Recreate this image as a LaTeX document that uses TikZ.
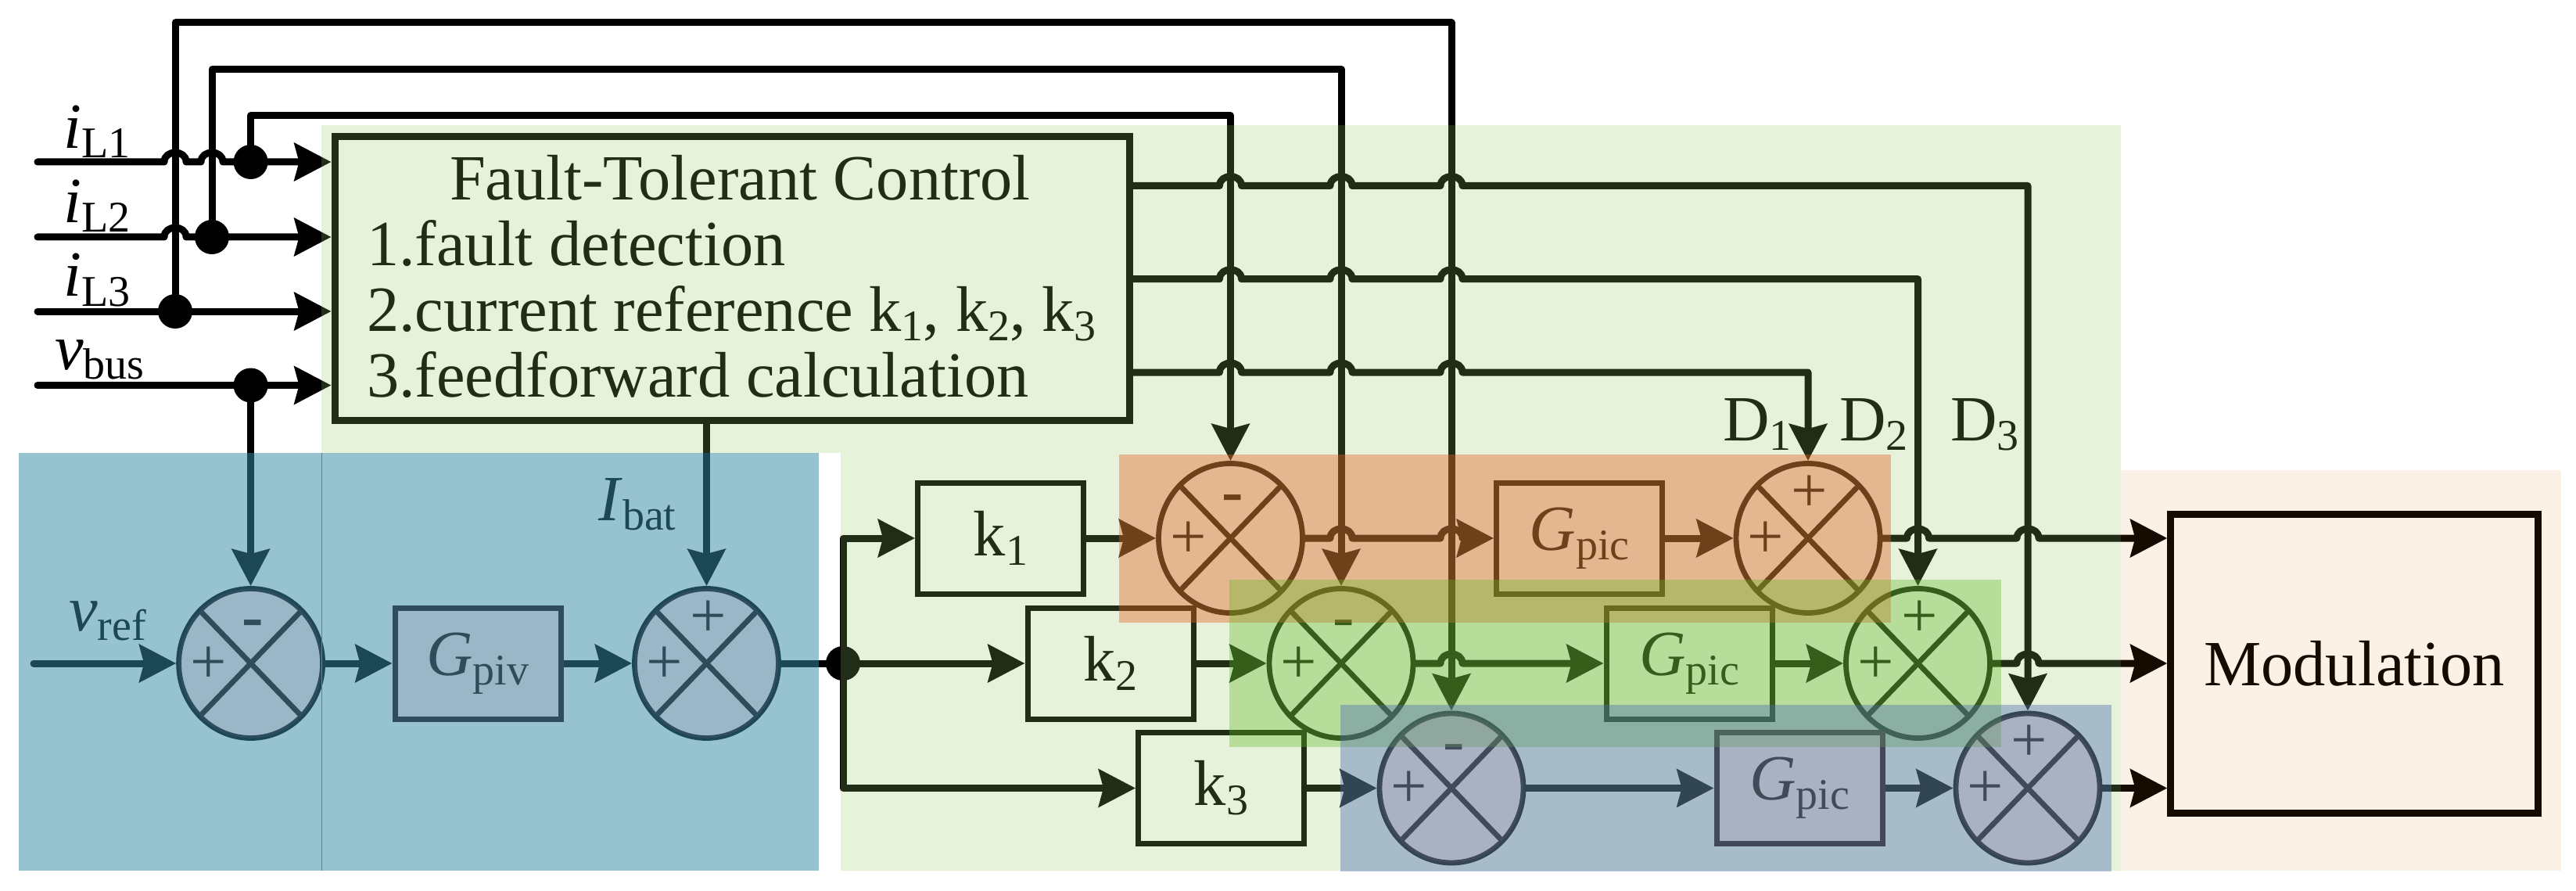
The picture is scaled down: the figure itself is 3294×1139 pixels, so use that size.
\documentclass[tikz,border=0pt]{standalone}
\usepackage{fontspec}
\setmainfont{Liberation Serif}
\usepackage{xcolor}
\usepackage{tikz}
\usetikzlibrary{
	arrows.meta, % for nice-looking arrows
	shapes.geometric % for the sum blocks
	}
\definecolor{ftcgreen}{RGB}{150,197,100}
\definecolor{pvteal}{RGB}{55,138,163}
\definecolor{rowone}{RGB}{226,95,34}
\definecolor{rowtwo}{RGB}{97,183,37}
\definecolor{rowthree}{RGB}{75,107,175}
\definecolor{modcream}{RGB}{215,115,15}
\definecolor{tintcol}{RGB}{175,115,140}
\newcommand{\bigfont}{\fontsize{41.2}{42}\selectfont}
\newcommand{\subtxt}[2]{#1\raisebox{-6pt}{\fontsize{28}{30}\selectfont #2}}
% horizontal line jumping over a vertical one
\newcommand{\hop}[2]{-- (#1-14,#2) .. controls (#1-14,#2-16) and (#1+14,#2-16) .. (#1+14,#2)}

\begin{document}
\begin{tikzpicture}[
                x=0.5pt,y=-0.5pt,
                every node/.style={font=\bigfont},
                sig/.style={line width=4.5pt,line cap=round,line join=round},
                arr/.style={sig,-{Stealth[length=23.5pt,width=24pt,inset=3pt]}},
                blk/.style={rectangle,draw,line width=3.5pt,minimum width=106pt,minimum height=71pt,inner sep=0pt},
                sumb/.style={ellipse,draw,line width=3.4pt,minimum width=92pt,minimum height=95.5pt,inner sep=0pt,
                    path picture={
                        \draw[line width=3.4pt] (path picture bounding box.south west) -- (path picture bounding box.north east);
                        \draw[line width=3.4pt] (path picture bounding box.north west) -- (path picture bounding box.south east);
                    }},
                sign/.style={inner sep=0pt},
                joint/.style={circle,fill=black,minimum size=22pt,inner sep=0pt},
                tag/.style={anchor=base west,inner sep=0pt},
                tintfill/.style={fill=tintcol,opacity=0.13},
            ]
                \useasboundingbox (0,0) rectangle (3294,1139);

                \def\xa{1573.5}
                \def\xb{1715}
                \def\xc{1856}
                \def\ya{688}
                \def\yb{848}
                \def\yc{1007.5}
                \def\oa{237.5}
                \def\ob{356.7}
                \def\oc{476}

                %% Control block and inputs
                \node[rectangle,draw,line width=4.5pt,minimum width=508pt,minimum height=181.5pt] (ftc) at (936,356) {};
                \node[anchor=west,align=left,inner sep=0pt] (ftctxt) at (468.6,353) {\hspace*{53pt}Fault-Tolerant Control\\1.fault detection\\2.current reference \subtxt{k}{1}, \subtxt{k}{2}, \subtxt{k}{3}\\3.feedforward calculation};

                \coordinate (in1) at (48,207);
                \coordinate (in2) at (48,303);
                \coordinate (in3) at (48,398);
                \coordinate (in4) at (48,492.5);
                \node[joint] (d1) at (320.6,207) {};
                \node[joint] (d2) at (271,303) {};
                \node[joint] (d3) at (224,398) {};
                \node[joint] (d4) at (320.6,492.5) {};

                \node[tag] (il1) at (81,190) {\subtxt{\textit{i}}{L1}};
                \node[tag] (il2) at (81,285) {\subtxt{\textit{i}}{L2}};
                \node[tag] (il3) at (81,379) {\subtxt{\textit{i}}{L3}};
                \node[tag] (vbus) at (70,472) {\subtxt{\textit{v}}{bus}};

                %% Battery loop
                \node[sumb] (sv) at (320.6,\yb) {};
                \node[blk] (piv) at (611,\yb) {\subtxt{\textit{G}}{piv}};
                \node[sumb] (si) at (903.5,\yb) {};
                \node[joint] (dj) at (1078,\yb) {};
                \coordinate (vin) at (43,\yb);
                \node[tag] (vref) at (88,806) {\subtxt{\textit{v}}{ref}};
                \node[tag] (ibat) at (765,665) {\subtxt{\textit{I}}{bat}};

                %% Three current loops
                \node[blk] (k1) at (1279.5,\ya) {\subtxt{k}{1}};
                \node[blk] (k2) at (1420,\yb) {\subtxt{k}{2}};
                \node[blk] (k3) at (1561.5,\yc) {\subtxt{k}{3}};
                \node[sumb] (s1a) at (\xa,\ya) {};
                \node[sumb] (s2a) at (\xb,\yb) {};
                \node[sumb] (s3a) at (\xc,\yc) {};
                \node[blk] (gpic1) at (2019.5,\ya) {\subtxt{\textit{G}}{pic}};
                \node[blk] (gpic2) at (2160,\yb) {\subtxt{\textit{G}}{pic}};
                \node[blk] (gpic3) at (2301,\yc) {\subtxt{\textit{G}}{pic}};
                \node[sumb] (s1b) at (2312,\ya) {};
                \node[sumb] (s2b) at (2452.5,\yb) {};
                \node[sumb] (s3b) at (2593,\yc) {};
                \node[tag] (dd1) at (2203,563) {\subtxt{D}{1}};
                \node[tag] (dd2) at (2352,563) {\subtxt{D}{2}};
                \node[tag] (dd3) at (2494,563) {\subtxt{D}{3}};
                \node[rectangle,draw,line width=4.5pt,minimum width=234.7pt,minimum height=191pt] (mod) at (3010.5,\yb) {Modulation};

                % Signs in the sum blocks
                \foreach \n in {sv,s1a,s2a,s3a}{
                    \node[sign] (\n-p) at ([xshift=-27pt,yshift=-1pt]\n.center) {+};
                    \node[sign] (\n-m) at ([xshift=1.5pt,yshift=22pt]\n.center) {\textbf{-}};
                }
                \foreach \n in {si,s1b,s2b,s3b}{
                    \node[sign] (\n-p) at ([xshift=-27pt,yshift=-1pt]\n.center) {+};
                    \node[sign] (\n-q) at ([xshift=1pt,yshift=28.5pt]\n.center) {+};
                }

                % Measurements into the control block
                \draw[arr] (in1) \hop{224}{207} \hop{271}{207} -- (d1.center) -- (d1 -| ftc.west);
                \draw[arr] (in2) \hop{224}{303} -- (d2.center) -- (d2 -| ftc.west);
                \draw[arr] (in3) -- (d3.center) -- (d3 -| ftc.west);
                \draw[arr] (in4) -- (d4.center) -- (d4 -| ftc.west);

                % Feedback lines over the top
                \coordinate (top1) at (\xa,148);
                \coordinate (top2) at (\xb,88.6);
                \coordinate (top3) at (\xc,29);
                \draw[arr] (d1.center) |- (top1) -- (s1a.north);
                \draw[arr] (d2.center) |- (top2) -- (s2a.north);
                \draw[arr] (d3.center) |- (top3) -- (s3a.north);

                % Duty feedforward
                \coordinate (o1) at (ftc.east |- 0,\oa);
                \coordinate (o2) at (ftc.east |- 0,\ob);
                \coordinate (o3) at (ftc.east |- 0,\oc);
                \draw[arr] (o1) \hop{\xa}{\oa} \hop{\xb}{\oa} \hop{\xc}{\oa} -| (s3b.north);
                \draw[arr] (o2) \hop{\xa}{\ob} \hop{\xb}{\ob} \hop{\xc}{\ob} -| (s2b.north);
                \draw[arr] (o3) \hop{\xa}{\oc} \hop{\xb}{\oc} \hop{\xc}{\oc} -| (s1b.north);

                % Battery loop
                \draw[arr] (d4.center) -- (sv.north);
                \draw[arr] (vin) -- (sv.west);
                \draw[arr] (sv.east) -- (piv.west);
                \draw[arr] (piv.east) -- (si.west);
                \draw[arr] (ftc.south -| si) -- (si.north);
                \draw[sig] (si.east) -- (dj.center);
                \draw[arr] (dj.center) |- (k1.west);
                \draw[arr] (dj.center) -- (k2.west);
                \draw[arr] (dj.center) |- (k3.west);

                % Rows
                \draw[arr] (k1.east) -- (s1a.west);
                \draw[arr] (s1a.east) \hop{\xb}{\ya} \hop{\xc}{\ya} -- (gpic1.west);
                \draw[arr] (gpic1.east) -- (s1b.west);
                \draw[arr] (s1b.east) \hop{2452.5}{\ya} \hop{2593}{\ya} -- (s1b -| mod.west);
                \draw[arr] (k2.east) -- (s2a.west);
                \draw[arr] (s2a.east) \hop{\xc}{\yb} -- (gpic2.west);
                \draw[arr] (gpic2.east) -- (s2b.west);
                \draw[arr] (s2b.east) \hop{2593}{\yb} -- (s2b -| mod.west);
                \draw[arr] (k3.east) -- (s3a.west);
                \draw[arr] (s3a.east) -- (gpic3.west);
                \draw[arr] (gpic3.east) -- (s3b.west);
                \draw[arr] (s3b.east) -- (s3b -| mod.west);

                %% Coloured regions, laid over everything
                \fill[ftcgreen,opacity=0.23] (411,160) -- (2712,160) -- (2712,1113) -- (1075,1113) -- (1075,579) -- (411,579) -- cycle;
                \fill[modcream,opacity=0.1] (2712,601) rectangle (3275,1113);
                \fill[pvteal,opacity=0.52] (24,579) rectangle (1047,1113);
                \draw[pvteal!70!gray,line width=0.4pt] (411,579) -- (411,1113);
                \fill[rowone,opacity=0.4] (1431,581) rectangle (2418,796);
                \fill[rowtwo,opacity=0.35] (1572,741) rectangle (2559,954.5);
                \fill[rowthree,opacity=0.4] (1714,901) rectangle (2700,1114);

                % Darker block fills in the teal and blue regions
                \foreach \n in {sv,si,s3a,s3b}{
                    \fill[tintfill] (\n.center) ellipse [x radius=92,y radius=95.5];
                }
                \foreach \n in {piv,gpic3}{
                    \fill[tintfill] (\n.south west) rectangle (\n.north east);
                }
            \end{tikzpicture}
\end{document}
